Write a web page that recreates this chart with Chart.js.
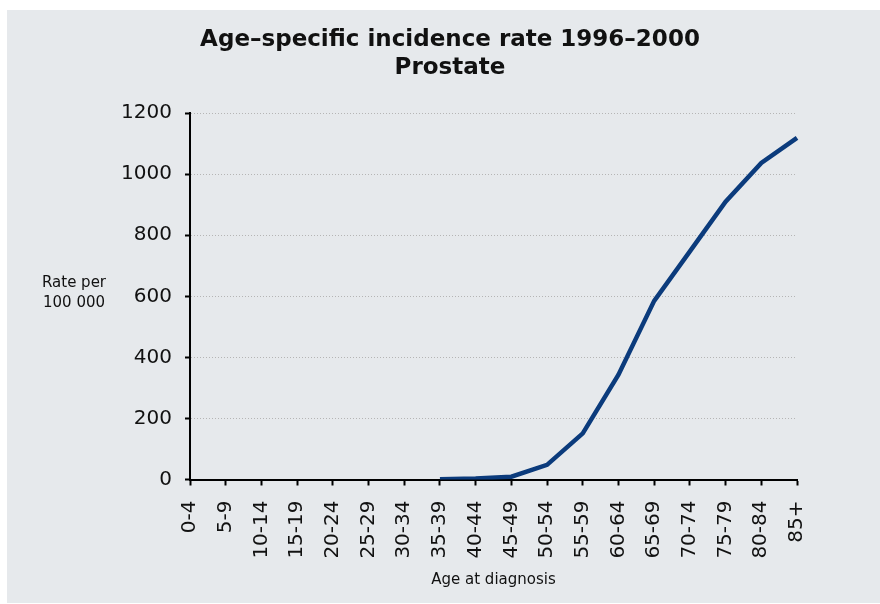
<!DOCTYPE html>
<html>
<head>
<meta charset="utf-8">
<script src="https://cdn.jsdelivr.net/npm/chart.js@4"></script>
<style>
  body { margin: 0; background: #fff; }
  #wrap { position: absolute; left: 7px; top: 10px; width: 873px; height: 593px; background: #e6e9ec; }
</style>
</head>
<body>
<div id="wrap"><canvas id="chart" width="873" height="593"></canvas></div>
<script>
// age groups on the x axis
const ageGroups = ['0-4', '5-9', '10-14', '15-19', '20-24', '25-29', '30-34', '35-39', '40-44',
  '45-49', '50-54', '55-59', '60-64', '65-69', '70-74', '75-79', '80-84', '85+'];

// rate per 100 000 (no line drawn before 35-39)
const rates = [null, null, null, null, null, null, null, 1, 3, 9, 48, 151, 343, 585, 747, 910, 1037, 1119];

const yTicks = [0, 200, 400, 600, 800, 1000, 1200];

const titleLines = ['Age–specific incidence rate 1996–2000', 'Prostate'];
const yLabelLines = ['Rate per', '100 000'];
const xLabel = 'Age at diagnosis';

// y axis title is horizontal in the original, so draw it by hand
const yLabelPlugin = {
  id: 'yLabel',
  afterDraw(chart) {
    const ctx = chart.ctx;
    const mid = (chart.chartArea.top + chart.chartArea.bottom) / 2;
    ctx.save();
    ctx.font = '15px "DejaVu Sans"';
    ctx.fillStyle = '#111';
    ctx.textAlign = 'center';
    ctx.textBaseline = 'middle';
    ctx.fillText(yLabelLines[0], 67, mid - 13);
    ctx.fillText(yLabelLines[1], 67, mid + 7);
    ctx.restore();
  }
};

const data = {
  labels: ageGroups,
  datasets: [{
    data: rates,
    borderColor: '#0b3b7c',
    borderWidth: 4.5,
    pointRadius: 0,
    tension: 0,
    fill: false
  }]
};

const config = {
  type: 'line',
  data,
  plugins: [yLabelPlugin],
  options: {
    responsive: false,
    animation: false,
    devicePixelRatio: 1,
    layout: { padding: { left: 13, right: 0, top: 0, bottom: 0 } },
    plugins: {
      legend: { display: false },
      tooltip: { enabled: false },
      title: {
        display: true,
        text: titleLines,
        color: '#111',
        font: { family: 'DejaVu Sans', size: 23, weight: 'bold', lineHeight: 1.22 },
        padding: { top: 16, bottom: 31 }
      }
    },
    scales: {
      x: {
        offset: false,
        afterFit: (s) => { s.height = 123.5; },
        grid: { drawOnChartArea: false, tickColor: '#000', tickLength: 6, tickWidth: 2 },
        border: { color: '#000', width: 2 },
        ticks: {
          autoSkip: false,
          minRotation: 90,
          maxRotation: 90,
          padding: 15,
          color: '#111',
          font: { family: 'DejaVu Sans', size: 20 }
        },
        title: {
          display: true,
          text: xLabel,
          color: '#111',
          font: { family: 'DejaVu Sans', size: 15 },
          padding: { top: 0, bottom: 14 }
        }
      },
      y: {
        min: 0,
        max: 1200,
        afterFit: (s) => { s.width = 170; },
        afterBuildTicks: (s) => { s.ticks = yTicks.map((v) => ({ value: v })); },
        grid: {
          color: '#b5b5b5',
          tickColor: '#000',
          tickLength: 5,
          tickWidth: 2
        },
        border: { color: '#000', width: 2, dash: [1, 2] },
        ticks: {
          padding: 13,
          color: '#111',
          font: { family: 'DejaVu Sans', size: 20 },
          callback: (v) => String(v)
        }
      },
      // empty axis on the right, only to keep space after the plot
      yRight: {
        position: 'right',
        afterFit: (s) => { s.width = 83; },
        grid: { display: false },
        border: { display: false },
        ticks: { display: false }
      }
    }
  }
};

const canvas = document.getElementById('chart');
new Chart(canvas, config);
</script>
</body>
</html>
